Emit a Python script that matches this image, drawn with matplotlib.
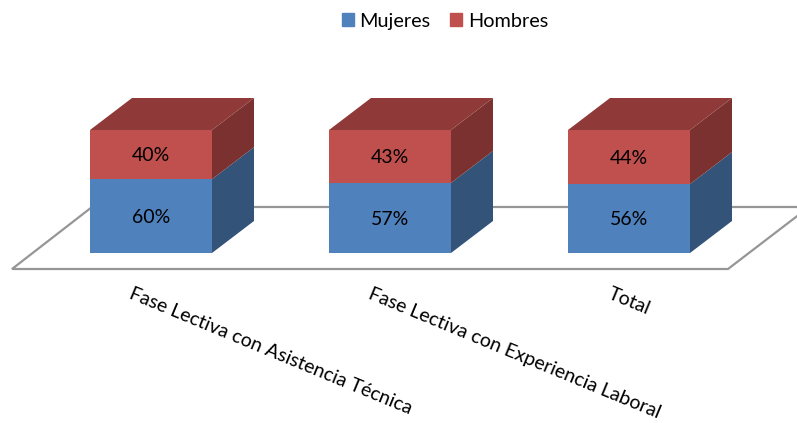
import matplotlib
matplotlib.use("Agg")
import matplotlib.pyplot as plt
from matplotlib.patches import Polygon, Patch

categories = ["Fase Lectiva con Asistencia Técnica", "Fase Lectiva con Experiencia Laboral", "Total"]
mujeres = [60, 57, 56]
hombres = [40, 43, 44]

blue = "#4F81BD"
blue_side = "#335378"
red = "#C0504D"
red_side = "#7A312F"
red_top = "#8F3A38"

W, H = 797, 423
spacing = 239.0     # px between bars
y_scale = 1.23      # px per percent
x0_px = 151.0
y0_px = 253.0
bar_w = 122 / spacing
dx = 42 / spacing
dy = 32 / y_scale

plt.rcParams['font.family'] = ['Lato', 'DejaVu Sans']

fig = plt.figure(figsize=(W / 100, H / 100), dpi=100)
ax = fig.add_axes([0, 0, 1, 1])
ax.set_xlim(-x0_px / spacing, (W - x0_px) / spacing)
ax.set_ylim(-(H - y0_px) / y_scale, y0_px / y_scale)
ax.axis("off")


def px(x, y):
    return (x - x0_px) / spacing, (y0_px - y) / y_scale


# floor
floor = [px(12, 269), px(92, 207), px(809, 207), px(728, 269)]
ax.add_patch(Polygon(floor, closed=True, fc="white", ec="#969696", lw=1.6, zorder=1))

for i in range(len(categories)):
    l = i - bar_w / 2
    r = i + bar_w / 2
    m = mujeres[i]
    t = mujeres[i] + hombres[i]
    ax.add_patch(Polygon([(r, 0), (r + dx, dy), (r + dx, m + dy), (r, m)], fc=blue_side, ec="none", zorder=2))
    ax.add_patch(Polygon([(r, m), (r + dx, m + dy), (r + dx, t + dy), (r, t)], fc=red_side, ec="none", zorder=2))
    ax.add_patch(Polygon([(l, t), (l + dx, t + dy), (r + dx, t + dy), (r, t)], fc=red_top, ec="none", zorder=2))

pos = range(len(categories))
ax.bar(pos, mujeres, width=bar_w, color=blue, zorder=3)
ax.bar(pos, hombres, width=bar_w, bottom=mujeres, color=red, zorder=3)

for i in pos:
    ax.text(i, mujeres[i] / 2 - 1, f"{mujeres[i]}%", ha="center", va="center", fontsize=14, color="black", zorder=4)
    ax.text(i, mujeres[i] + hombres[i] / 2 - 1, f"{hombres[i]}%", ha="center", va="center", fontsize=14, color="black", zorder=4)

# category labels
label_starts = [(130, 293), (369, 293), (609, 293)]
for i, cat in enumerate(categories):
    x, y = px(*label_starts[i])
    ax.text(x, y, cat, rotation=-22.5, rotation_mode="anchor", ha="left", va="center",
            fontsize=14, color="black", zorder=4)

handles = [Patch(color=blue), Patch(color=red)]
fig.legend(handles, ["Mujeres", "Hombres"], loc="upper center", ncol=2, frameon=False, fontsize=14.3,
           bbox_to_anchor=(0.5585, 1.012), handlelength=0.6, handleheight=0.6, handletextpad=0.3, columnspacing=1.0)

fig.savefig("out.png", dpi=100)
